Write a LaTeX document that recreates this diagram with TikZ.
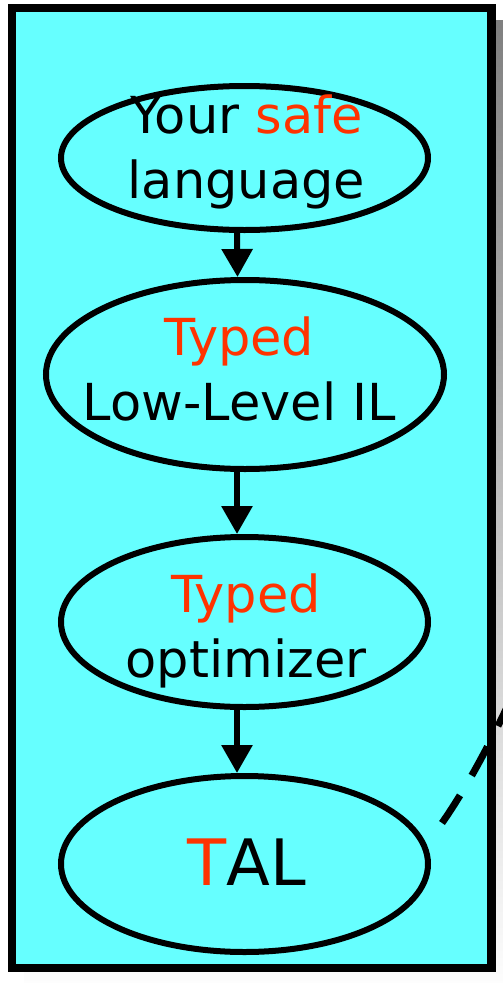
\documentclass[tikz,border=0pt]{standalone}
\usepackage{fontspec}
\setmainfont{DejaVu Sans}
\usetikzlibrary{arrows.meta,shapes.geometric}
\definecolor{panel}{HTML}{66FFFF}
\definecolor{hilite}{HTML}{FF3300}
\definecolor{shade}{HTML}{808080}
\begin{document}
\begin{tikzpicture}[x=1pt,y=-1pt,
  stage/.style={ellipse, draw, line width=6pt, fill=panel, inner sep=0pt},
  txt/.style={font=\fontsize{51}{65}\selectfont, align=center, inner sep=0pt},
  flow/.style={line width=6pt, -{Triangle[length=28pt,width=30pt]}}]
\useasboundingbox (0,0) rectangle (503,983);
\clip (0,0) rectangle (503,983);
% drop shadow and panel
\fill[shade] (24,20) rectangle (520,1000);
\draw[line width=8.5pt, fill=panel] (12,8) rectangle (491.5,968);
% compiler stages
\node[stage, minimum width=367pt, minimum height=144pt] (e1) at (244.5,158) {};
\node[stage, minimum width=398pt, minimum height=189pt] (e2) at (245,374.5) {};
\node[stage, minimum width=367pt, minimum height=170pt] (e3) at (244.5,622) {};
\node[stage, minimum width=367pt, minimum height=176pt] (e4) at (244.5,864) {};
\node[txt] (t1) at (246.5,151.6) {Your \textcolor{hilite}{safe}\\language};
\node[txt] (t2) at (239.5,369) {\textcolor{hilite}{Typed}\\Low-Level IL};
\node[txt] (t3) at (246,631) {\textcolor{hilite}{Typed}\\optimizer};
\node[txt, font=\fontsize{64}{70}\selectfont] (t4) at (247,861.7) {\textcolor{hilite}{T}AL};
% flow between stages
\draw[flow] ([xshift=-7.5pt]e1.south) -- ([xshift=-7.5pt]e2.north);
\draw[flow] ([xshift=-8pt]e2.south) -- ([xshift=-7.5pt]e3.north);
\draw[flow] ([xshift=-7.5pt]e3.south) -- ([xshift=-7.5pt]e4.north);
% dashed lead out of the panel
\coordinate (d0) at (442,823);
\coordinate (d1) at (515,690);
\draw[line width=7pt, dash pattern=on 33pt off 23pt] (d0) .. controls (465,790) and (490,745) .. (d1);
\end{tikzpicture}
\end{document}
